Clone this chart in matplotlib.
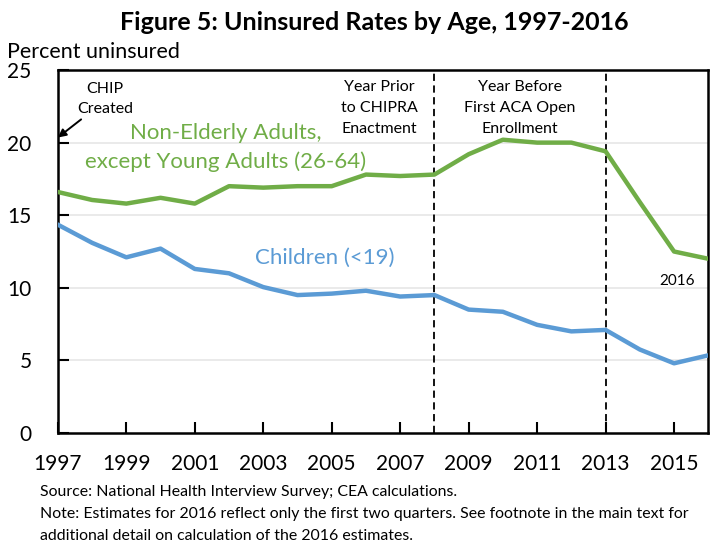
import matplotlib
matplotlib.use("Agg")
import matplotlib.pyplot as plt

plt.rcParams['font.family'] = ['Lato', 'DejaVu Sans']

years = list(range(1997, 2017))
adults = [16.6, 16.05, 15.8, 16.2, 15.8, 17.0, 16.9, 17.0, 17.0, 17.8,
          17.7, 17.8, 19.2, 20.2, 20.0, 20.0, 19.4, 15.9, 12.5, 12.0]
children = [14.35, 13.1, 12.1, 12.7, 11.3, 11.0, 10.05, 9.5, 9.6, 9.8,
            9.4, 9.5, 8.5, 8.35, 7.45, 7.0, 7.1, 5.75, 4.8, 5.35]
xtick_years = list(range(1997, 2016, 2))
yticks = [0, 5, 10, 15, 20, 25]
event_years = [2008, 2013]

GREEN = '#70AD47'
BLUE = '#5B9BD5'

fig = plt.figure(figsize=(7.14, 5.45), dpi=100)
ax = fig.add_axes([0.081, 0.2055, 0.911, 0.666])

ax.set_xlim(1997, 2016)
ax.set_ylim(0, 25)

for v in yticks[1:]:
    ax.axhline(v, color='#E6E6E6', lw=1.2, zorder=0)

ax.plot(years, adults, color=GREEN, lw=3.2, solid_joinstyle='round', zorder=3)
ax.plot(years, children, color=BLUE, lw=3.2, solid_joinstyle='round', zorder=3)

for ey in event_years:
    ax.axvline(ey, color='black', lw=1.3, ls=(0, (4, 2.5)), zorder=2)

ax.set_xticks(xtick_years)
ax.set_xticklabels([str(y) for y in xtick_years])
ax.set_yticks(yticks)
ax.tick_params(axis='both', direction='in', length=8, width=1.5, labelsize=15)
ax.tick_params(axis='x', pad=15)
ax.tick_params(axis='y', pad=19)
for s in ax.spines.values():
    s.set_linewidth(1.8)

fig.text(0.524, 0.958, 'Figure 5: Uninsured Rates by Age, 1997-2016',
         ha='center', va='center', fontsize=18, fontweight='bold')
fig.text(0.010, 0.905, 'Percent uninsured', ha='left', va='center', fontsize=15.5)

ax.text(1998.38, 23.0, 'CHIP\nCreated', ha='center', va='center',
        fontsize=11.5, linespacing=1.6)
ax.annotate('', xy=(1997.0, 20.35), xytext=(1997.68, 21.6),
            arrowprops=dict(arrowstyle='-|>', color='black', lw=1.4,
                            mutation_scale=12, shrinkA=0, shrinkB=0))

ax.text(2001.9, 20.66, 'Non-Elderly Adults,', ha='center', va='center',
        fontsize=16, color=GREEN)
ax.text(2001.9, 18.66, 'except Young Adults (26-64)', ha='center', va='center',
        fontsize=16, color=GREEN)
ax.text(2004.8, 12.05, 'Children (<19)', ha='center', va='center',
        fontsize=16, color=BLUE)

ax.text(2006.4, 22.4, 'Year Prior\nto CHIPRA\nEnactment', ha='center',
        va='center', fontsize=11.5, linespacing=1.65)
ax.text(2010.5, 22.4, 'Year Before\nFirst ACA Open\nEnrollment', ha='center',
        va='center', fontsize=11.5, linespacing=1.65)
ax.text(2015.1, 10.5, '2016', ha='center', va='center', fontsize=11)

fig.text(0.056, 0.097, 'Source: National Health Interview Survey; CEA calculations.',
         ha='left', va='center', fontsize=11.4)
fig.text(0.056, 0.056, 'Note: Estimates for 2016 reflect only the first two quarters. '
         'See footnote in the main text for', ha='left', va='center', fontsize=11.4)
fig.text(0.056, 0.016, 'additional detail on calculation of the 2016 estimates.',
         ha='left', va='center', fontsize=11.4)

fig.savefig('out.png', dpi=100)
